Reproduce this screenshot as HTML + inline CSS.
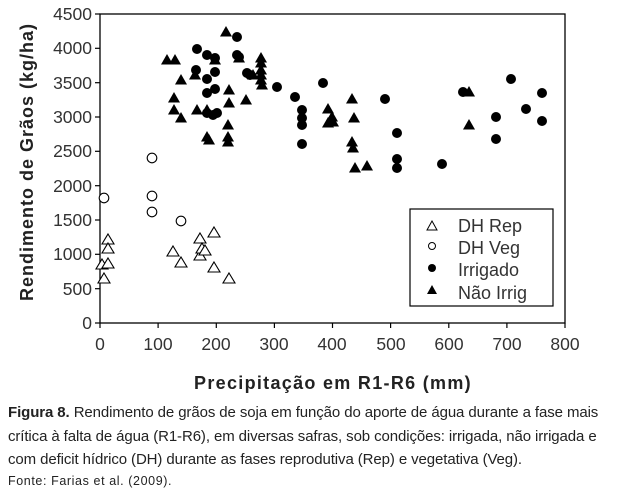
<!DOCTYPE html>
<html><head><meta charset="utf-8"><style>
body{margin:0;background:#fff;width:619px;height:496px;overflow:hidden;font-family:"Liberation Sans",sans-serif}
.cap{position:absolute;left:8px;font-size:15px;color:#222;white-space:nowrap;letter-spacing:-0.1px}
</style></head><body>
<svg width="619" height="496" style="position:absolute;left:0;top:0" font-family="Liberation Sans, sans-serif">
<defs>
<path id="tf" d="M0,-6 L6,4.5 L-6,4.5 Z" fill="#000"/>
<path id="to" d="M0,-6 L6,4 L-6,4 Z" fill="#fff" stroke="#000" stroke-width="1.1"/>
<circle id="df" r="5" fill="#000"/>
<circle id="co" r="4.8" fill="#fff" stroke="#000" stroke-width="1.1"/>
</defs>
<rect x="100" y="14" width="465" height="309" fill="none" stroke="#000" stroke-width="1.3"/>
<g stroke="#000" stroke-width="1.2">
<line x1="95" y1="14" x2="100" y2="14"/><line x1="95" y1="48.3" x2="100" y2="48.3"/><line x1="95" y1="82.7" x2="100" y2="82.7"/><line x1="95" y1="117" x2="100" y2="117"/><line x1="95" y1="151.3" x2="100" y2="151.3"/><line x1="95" y1="185.7" x2="100" y2="185.7"/><line x1="95" y1="220" x2="100" y2="220"/><line x1="95" y1="254.3" x2="100" y2="254.3"/><line x1="95" y1="288.7" x2="100" y2="288.7"/><line x1="95" y1="323" x2="100" y2="323"/>
<line x1="100" y1="323" x2="100" y2="328"/><line x1="158.1" y1="323" x2="158.1" y2="328"/><line x1="216.3" y1="323" x2="216.3" y2="328"/><line x1="274.4" y1="323" x2="274.4" y2="328"/><line x1="332.5" y1="323" x2="332.5" y2="328"/><line x1="390.6" y1="323" x2="390.6" y2="328"/><line x1="448.8" y1="323" x2="448.8" y2="328"/><line x1="506.9" y1="323" x2="506.9" y2="328"/><line x1="565" y1="323" x2="565" y2="328"/>
</g>
<g font-size="17.5" fill="#333" text-anchor="end">
<text x="92" y="20">4500</text><text x="92" y="54">4000</text><text x="92" y="89">3500</text><text x="92" y="123">3000</text><text x="92" y="157">2500</text><text x="92" y="192">2000</text><text x="92" y="226">1500</text><text x="92" y="260">1000</text><text x="92" y="295">500</text><text x="92" y="329">0</text>
</g>
<g font-size="17.5" fill="#333" text-anchor="middle">
<text x="100" y="350">0</text><text x="158" y="350">100</text><text x="216" y="350">200</text><text x="274" y="350">300</text><text x="332" y="350">400</text><text x="391" y="350">500</text><text x="449" y="350">600</text><text x="507" y="350">700</text><text x="565" y="350">800</text>
</g>
<text transform="translate(33,162) rotate(-90)" text-anchor="middle" font-size="18" font-weight="bold" fill="#222" letter-spacing="1">Rendimento de Grãos (kg/ha)</text>
<text x="333" y="389" text-anchor="middle" font-size="18" font-weight="bold" fill="#222" letter-spacing="1.3">Precipitação em R1-R6 (mm)</text>
<g>
<use href="#tf" x="167" y="60"/><use href="#tf" x="175" y="60"/><use href="#tf" x="181" y="80"/><use href="#tf" x="174" y="98"/><use href="#tf" x="174" y="110"/><use href="#tf" x="181" y="118"/><use href="#tf" x="197" y="110"/><use href="#tf" x="207" y="110"/><use href="#tf" x="207" y="137"/><use href="#tf" x="209" y="140"/><use href="#tf" x="195" y="75"/><use href="#tf" x="215" y="60"/><use href="#tf" x="229" y="90"/><use href="#tf" x="229" y="103"/><use href="#tf" x="228" y="125"/><use href="#tf" x="228" y="137"/><use href="#tf" x="228" y="142"/><use href="#tf" x="226" y="32"/><use href="#tf" x="239" y="58"/><use href="#tf" x="246" y="100"/><use href="#tf" x="261" y="58"/><use href="#tf" x="261" y="63"/><use href="#tf" x="261" y="70"/><use href="#tf" x="261" y="75"/><use href="#tf" x="261" y="80"/><use href="#tf" x="262" y="85"/><use href="#tf" x="253" y="75"/>
<use href="#tf" x="352" y="99"/><use href="#tf" x="328" y="109"/><use href="#tf" x="332" y="117"/><use href="#tf" x="333" y="122"/><use href="#tf" x="328" y="123"/><use href="#tf" x="354" y="118"/><use href="#tf" x="352" y="142"/><use href="#tf" x="353" y="148"/><use href="#tf" x="355" y="168"/><use href="#tf" x="367" y="166"/><use href="#tf" x="469" y="92"/><use href="#tf" x="469" y="125"/>
</g>
<g>
<use href="#df" x="197" y="49"/><use href="#df" x="207" y="55"/><use href="#df" x="215" y="58"/><use href="#df" x="215" y="72"/><use href="#df" x="207" y="79"/><use href="#df" x="215" y="89"/><use href="#df" x="207" y="93"/><use href="#df" x="207" y="113"/><use href="#df" x="213" y="115"/><use href="#df" x="217" y="113"/><use href="#df" x="196" y="70"/><use href="#df" x="237" y="37"/><use href="#df" x="237" y="55"/><use href="#df" x="239" y="57"/><use href="#df" x="247" y="73"/><use href="#df" x="250" y="75"/><use href="#df" x="277" y="87"/><use href="#df" x="295" y="97"/><use href="#df" x="302" y="110"/><use href="#df" x="302" y="118"/><use href="#df" x="302" y="125"/><use href="#df" x="302" y="144"/>
<use href="#df" x="323" y="83"/><use href="#df" x="385" y="99"/><use href="#df" x="397" y="133"/><use href="#df" x="397" y="159"/><use href="#df" x="397" y="168"/><use href="#df" x="442" y="164"/><use href="#df" x="463" y="92"/><use href="#df" x="511" y="79"/><use href="#df" x="542" y="93"/><use href="#df" x="496" y="117"/><use href="#df" x="526" y="109"/><use href="#df" x="542" y="121"/><use href="#df" x="496" y="139"/>
</g>
<g>
<use href="#to" x="108" y="240"/><use href="#to" x="108" y="249"/><use href="#to" x="102" y="265"/><use href="#to" x="108" y="264"/><use href="#to" x="104" y="279"/><use href="#to" x="173" y="252"/><use href="#to" x="181" y="263"/><use href="#to" x="200" y="239"/><use href="#to" x="200" y="256"/><use href="#to" x="202" y="249"/><use href="#to" x="205" y="251"/><use href="#to" x="214" y="233"/><use href="#to" x="214" y="268"/><use href="#to" x="229" y="279"/>
</g>
<g>
<use href="#co" x="104" y="198"/><use href="#co" x="152" y="196"/><use href="#co" x="152" y="212"/><use href="#co" x="181" y="221"/><use href="#co" x="152" y="158"/>
</g>
<rect x="410" y="209" width="143" height="97" fill="#fff" stroke="#000" stroke-width="1.2"/>
<g font-size="18" fill="#333">
<text x="458" y="232">DH Rep</text><text x="458" y="254">DH Veg</text><text x="458" y="276">Irrigado</text><text x="458" y="299">Não Irrig</text>
</g>
<path d="M432,221 L437,230 L427,230 Z" fill="#fff" stroke="#000" stroke-width="1"/>
<circle cx="432" cy="246" r="3.5" fill="#fff" stroke="#000"/>
<circle cx="432" cy="268" r="4" fill="#000"/>
<path d="M432,285 L437,294 L427,294 Z" fill="#000"/>
</svg>
<div class="cap" style="top:404px"><b>Figura 8.</b> Rendimento de grãos de soja em função do aporte de água durante a fase mais</div>
<div class="cap" style="top:428px">crítica à falta de água (R1-R6), em diversas safras, sob condições: irrigada, não irrigada e</div>
<div class="cap" style="top:451px">com deficit hídrico (DH) durante as fases reprodutiva (Rep) e vegetativa (Veg).</div>
<div class="cap" style="top:474px;font-size:12.5px;letter-spacing:0.6px">Fonte: Farias et al. (2009).</div>
</body></html>
